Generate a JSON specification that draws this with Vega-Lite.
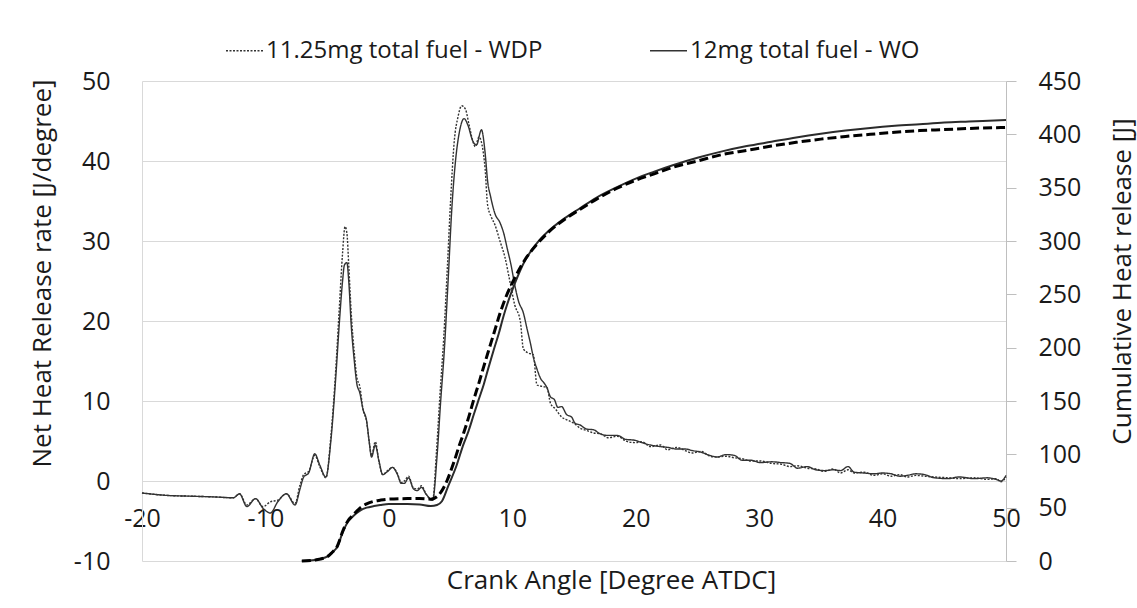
{
  "$schema": "https://vega.github.io/schema/vega-lite/v6.json",
  "autosize": {"type": "none"},
  "width": 864,
  "height": 480,
  "padding": {"left": 142, "top": 81, "right": 131, "bottom": 47},
  "background": "white",
  "config": {
    "font": "Open Sans",
    "view": {"stroke": null},
    "axis": {"labelFont": "Open Sans", "titleFont": "Open Sans", "labelColor": "#1a1a1a", "titleColor": "#1a1a1a", "titleFontWeight": "normal"}
  },
  "datasets": {
    "hrr": [
      {"ca": -20, "s": "12mg total fuel - WO", "v": -1.5},
      {"ca": -18, "s": "12mg total fuel - WO", "v": -1.8},
      {"ca": -16, "s": "12mg total fuel - WO", "v": -1.9},
      {"ca": -14, "s": "12mg total fuel - WO", "v": -2.0},
      {"ca": -12.6, "s": "12mg total fuel - WO", "v": -2.1},
      {"ca": -12.1, "s": "12mg total fuel - WO", "v": -1.6},
      {"ca": -11.5, "s": "12mg total fuel - WO", "v": -3.2},
      {"ca": -10.8, "s": "12mg total fuel - WO", "v": -2.2},
      {"ca": -10.2, "s": "12mg total fuel - WO", "v": -3.4},
      {"ca": -9.6, "s": "12mg total fuel - WO", "v": -4.0},
      {"ca": -9.0, "s": "12mg total fuel - WO", "v": -2.6},
      {"ca": -8.3, "s": "12mg total fuel - WO", "v": -1.6},
      {"ca": -7.6, "s": "12mg total fuel - WO", "v": -3.0},
      {"ca": -7.2, "s": "12mg total fuel - WO", "v": -1.0},
      {"ca": -6.9, "s": "12mg total fuel - WO", "v": 0.5},
      {"ca": -6.5, "s": "12mg total fuel - WO", "v": 1.0},
      {"ca": -6.0, "s": "12mg total fuel - WO", "v": 3.4},
      {"ca": -5.6, "s": "12mg total fuel - WO", "v": 2.0},
      {"ca": -5.1, "s": "12mg total fuel - WO", "v": 0.5},
      {"ca": -4.7, "s": "12mg total fuel - WO", "v": 5.0},
      {"ca": -4.3, "s": "12mg total fuel - WO", "v": 13.0},
      {"ca": -4.0, "s": "12mg total fuel - WO", "v": 20.0},
      {"ca": -3.75, "s": "12mg total fuel - WO", "v": 25.0},
      {"ca": -3.6, "s": "12mg total fuel - WO", "v": 27.0},
      {"ca": -3.4, "s": "12mg total fuel - WO", "v": 27.3},
      {"ca": -3.25, "s": "12mg total fuel - WO", "v": 25.0},
      {"ca": -3.05, "s": "12mg total fuel - WO", "v": 19.5},
      {"ca": -2.8, "s": "12mg total fuel - WO", "v": 15.0},
      {"ca": -2.6, "s": "12mg total fuel - WO", "v": 12.2},
      {"ca": -2.35, "s": "12mg total fuel - WO", "v": 11.0},
      {"ca": -2.1, "s": "12mg total fuel - WO", "v": 9.0},
      {"ca": -1.8, "s": "12mg total fuel - WO", "v": 7.5},
      {"ca": -1.6, "s": "12mg total fuel - WO", "v": 5.0},
      {"ca": -1.4, "s": "12mg total fuel - WO", "v": 3.0},
      {"ca": -1.1, "s": "12mg total fuel - WO", "v": 4.5},
      {"ca": -0.8, "s": "12mg total fuel - WO", "v": 2.5},
      {"ca": -0.5, "s": "12mg total fuel - WO", "v": 0.8},
      {"ca": -0.1, "s": "12mg total fuel - WO", "v": 1.2},
      {"ca": 0.3, "s": "12mg total fuel - WO", "v": 1.7},
      {"ca": 0.7, "s": "12mg total fuel - WO", "v": 0.8},
      {"ca": 1.0, "s": "12mg total fuel - WO", "v": -0.3},
      {"ca": 1.25, "s": "12mg total fuel - WO", "v": -0.3},
      {"ca": 1.6, "s": "12mg total fuel - WO", "v": 0.4},
      {"ca": 2.0, "s": "12mg total fuel - WO", "v": -1.0},
      {"ca": 2.3, "s": "12mg total fuel - WO", "v": -1.2},
      {"ca": 2.65, "s": "12mg total fuel - WO", "v": -0.8},
      {"ca": 3.0, "s": "12mg total fuel - WO", "v": -1.6},
      {"ca": 3.55, "s": "12mg total fuel - WO", "v": -2.4},
      {"ca": 3.9, "s": "12mg total fuel - WO", "v": 3.0},
      {"ca": 4.2, "s": "12mg total fuel - WO", "v": 10.0},
      {"ca": 4.5, "s": "12mg total fuel - WO", "v": 16.5},
      {"ca": 4.8, "s": "12mg total fuel - WO", "v": 25.0},
      {"ca": 5.1, "s": "12mg total fuel - WO", "v": 34.0},
      {"ca": 5.4, "s": "12mg total fuel - WO", "v": 40.0},
      {"ca": 5.7, "s": "12mg total fuel - WO", "v": 43.5},
      {"ca": 6.1, "s": "12mg total fuel - WO", "v": 45.3},
      {"ca": 6.4, "s": "12mg total fuel - WO", "v": 44.5},
      {"ca": 6.8, "s": "12mg total fuel - WO", "v": 42.5},
      {"ca": 7.1, "s": "12mg total fuel - WO", "v": 42.0},
      {"ca": 7.5, "s": "12mg total fuel - WO", "v": 43.9},
      {"ca": 7.8, "s": "12mg total fuel - WO", "v": 41.0},
      {"ca": 8.0, "s": "12mg total fuel - WO", "v": 37.5},
      {"ca": 8.25, "s": "12mg total fuel - WO", "v": 35.5},
      {"ca": 8.6, "s": "12mg total fuel - WO", "v": 33.4},
      {"ca": 9.0, "s": "12mg total fuel - WO", "v": 32.3},
      {"ca": 9.3, "s": "12mg total fuel - WO", "v": 31.0},
      {"ca": 9.6, "s": "12mg total fuel - WO", "v": 29.0},
      {"ca": 9.9, "s": "12mg total fuel - WO", "v": 27.0},
      {"ca": 10.2, "s": "12mg total fuel - WO", "v": 24.5},
      {"ca": 10.5, "s": "12mg total fuel - WO", "v": 22.5},
      {"ca": 10.9, "s": "12mg total fuel - WO", "v": 21.0},
      {"ca": 11.2, "s": "12mg total fuel - WO", "v": 19.0},
      {"ca": 11.5, "s": "12mg total fuel - WO", "v": 17.0},
      {"ca": 11.7, "s": "12mg total fuel - WO", "v": 15.5},
      {"ca": 12.0, "s": "12mg total fuel - WO", "v": 14.0},
      {"ca": 12.3, "s": "12mg total fuel - WO", "v": 12.8},
      {"ca": 12.6, "s": "12mg total fuel - WO", "v": 12.2},
      {"ca": 12.8, "s": "12mg total fuel - WO", "v": 11.7},
      {"ca": 13.1, "s": "12mg total fuel - WO", "v": 10.5},
      {"ca": 13.4, "s": "12mg total fuel - WO", "v": 10.2},
      {"ca": 13.7, "s": "12mg total fuel - WO", "v": 9.2},
      {"ca": 14.0, "s": "12mg total fuel - WO", "v": 9.3},
      {"ca": 14.4, "s": "12mg total fuel - WO", "v": 8.3},
      {"ca": 14.8, "s": "12mg total fuel - WO", "v": 8.0},
      {"ca": 15.1, "s": "12mg total fuel - WO", "v": 7.2},
      {"ca": 15.5, "s": "12mg total fuel - WO", "v": 7.0},
      {"ca": 16.0, "s": "12mg total fuel - WO", "v": 6.5},
      {"ca": 16.6, "s": "12mg total fuel - WO", "v": 6.4},
      {"ca": 17.0, "s": "12mg total fuel - WO", "v": 6.0},
      {"ca": 17.7, "s": "12mg total fuel - WO", "v": 5.7},
      {"ca": 18.5, "s": "12mg total fuel - WO", "v": 5.7},
      {"ca": 19.2, "s": "12mg total fuel - WO", "v": 5.2},
      {"ca": 19.9, "s": "12mg total fuel - WO", "v": 5.1},
      {"ca": 20.5, "s": "12mg total fuel - WO", "v": 4.8},
      {"ca": 21.2, "s": "12mg total fuel - WO", "v": 4.5},
      {"ca": 22.0, "s": "12mg total fuel - WO", "v": 4.3},
      {"ca": 22.6, "s": "12mg total fuel - WO", "v": 4.2},
      {"ca": 23.3, "s": "12mg total fuel - WO", "v": 4.0},
      {"ca": 24.0, "s": "12mg total fuel - WO", "v": 4.0},
      {"ca": 24.6, "s": "12mg total fuel - WO", "v": 3.8},
      {"ca": 25.3, "s": "12mg total fuel - WO", "v": 3.6},
      {"ca": 26.0, "s": "12mg total fuel - WO", "v": 3.2},
      {"ca": 26.6, "s": "12mg total fuel - WO", "v": 3.0},
      {"ca": 27.3, "s": "12mg total fuel - WO", "v": 3.3},
      {"ca": 28.0, "s": "12mg total fuel - WO", "v": 3.2},
      {"ca": 28.6, "s": "12mg total fuel - WO", "v": 2.6},
      {"ca": 29.3, "s": "12mg total fuel - WO", "v": 2.6},
      {"ca": 30.1, "s": "12mg total fuel - WO", "v": 2.3},
      {"ca": 31.0, "s": "12mg total fuel - WO", "v": 2.4},
      {"ca": 31.8, "s": "12mg total fuel - WO", "v": 2.3},
      {"ca": 32.5, "s": "12mg total fuel - WO", "v": 2.2},
      {"ca": 33.1, "s": "12mg total fuel - WO", "v": 1.6},
      {"ca": 33.9, "s": "12mg total fuel - WO", "v": 1.8},
      {"ca": 34.6, "s": "12mg total fuel - WO", "v": 1.4},
      {"ca": 35.3, "s": "12mg total fuel - WO", "v": 1.3},
      {"ca": 36.0, "s": "12mg total fuel - WO", "v": 1.4},
      {"ca": 36.6, "s": "12mg total fuel - WO", "v": 1.3},
      {"ca": 37.2, "s": "12mg total fuel - WO", "v": 1.8},
      {"ca": 37.7, "s": "12mg total fuel - WO", "v": 1.1},
      {"ca": 38.5, "s": "12mg total fuel - WO", "v": 1.0},
      {"ca": 39.3, "s": "12mg total fuel - WO", "v": 0.9},
      {"ca": 40.0, "s": "12mg total fuel - WO", "v": 1.0},
      {"ca": 40.7, "s": "12mg total fuel - WO", "v": 0.9},
      {"ca": 41.4, "s": "12mg total fuel - WO", "v": 0.6},
      {"ca": 42.0, "s": "12mg total fuel - WO", "v": 0.7},
      {"ca": 42.7, "s": "12mg total fuel - WO", "v": 0.9},
      {"ca": 43.4, "s": "12mg total fuel - WO", "v": 0.8},
      {"ca": 44.2, "s": "12mg total fuel - WO", "v": 0.4},
      {"ca": 45.3, "s": "12mg total fuel - WO", "v": 0.3},
      {"ca": 46.2, "s": "12mg total fuel - WO", "v": 0.5},
      {"ca": 47.4, "s": "12mg total fuel - WO", "v": 0.3},
      {"ca": 48.5, "s": "12mg total fuel - WO", "v": 0.4},
      {"ca": 49.2, "s": "12mg total fuel - WO", "v": 0.2},
      {"ca": 49.6, "s": "12mg total fuel - WO", "v": 0.0},
      {"ca": 50.0, "s": "12mg total fuel - WO", "v": 0.7},
      {"ca": -20, "s": "11.25mg total fuel - WDP", "v": -1.5},
      {"ca": -18, "s": "11.25mg total fuel - WDP", "v": -1.8},
      {"ca": -16, "s": "11.25mg total fuel - WDP", "v": -1.9},
      {"ca": -14, "s": "11.25mg total fuel - WDP", "v": -2.0},
      {"ca": -12.6, "s": "11.25mg total fuel - WDP", "v": -2.1},
      {"ca": -12.1, "s": "11.25mg total fuel - WDP", "v": -1.6},
      {"ca": -11.5, "s": "11.25mg total fuel - WDP", "v": -3.0},
      {"ca": -10.8, "s": "11.25mg total fuel - WDP", "v": -2.2},
      {"ca": -10.2, "s": "11.25mg total fuel - WDP", "v": -3.2},
      {"ca": -9.6, "s": "11.25mg total fuel - WDP", "v": -2.6},
      {"ca": -9.0, "s": "11.25mg total fuel - WDP", "v": -2.4},
      {"ca": -8.3, "s": "11.25mg total fuel - WDP", "v": -1.6},
      {"ca": -7.6, "s": "11.25mg total fuel - WDP", "v": -2.8},
      {"ca": -7.2, "s": "11.25mg total fuel - WDP", "v": -0.5},
      {"ca": -6.9, "s": "11.25mg total fuel - WDP", "v": 0.8},
      {"ca": -6.5, "s": "11.25mg total fuel - WDP", "v": 1.2},
      {"ca": -6.0, "s": "11.25mg total fuel - WDP", "v": 3.2},
      {"ca": -5.6, "s": "11.25mg total fuel - WDP", "v": 1.8},
      {"ca": -5.1, "s": "11.25mg total fuel - WDP", "v": 0.4},
      {"ca": -4.7, "s": "11.25mg total fuel - WDP", "v": 5.5},
      {"ca": -4.3, "s": "11.25mg total fuel - WDP", "v": 14.0},
      {"ca": -4.0, "s": "11.25mg total fuel - WDP", "v": 22.0},
      {"ca": -3.75, "s": "11.25mg total fuel - WDP", "v": 28.5},
      {"ca": -3.55, "s": "11.25mg total fuel - WDP", "v": 31.8},
      {"ca": -3.4, "s": "11.25mg total fuel - WDP", "v": 31.0},
      {"ca": -3.25, "s": "11.25mg total fuel - WDP", "v": 27.0},
      {"ca": -3.05, "s": "11.25mg total fuel - WDP", "v": 21.0},
      {"ca": -2.8, "s": "11.25mg total fuel - WDP", "v": 16.0},
      {"ca": -2.6, "s": "11.25mg total fuel - WDP", "v": 13.0},
      {"ca": -2.35, "s": "11.25mg total fuel - WDP", "v": 11.8},
      {"ca": -2.1, "s": "11.25mg total fuel - WDP", "v": 9.0},
      {"ca": -1.8, "s": "11.25mg total fuel - WDP", "v": 7.4},
      {"ca": -1.6, "s": "11.25mg total fuel - WDP", "v": 5.0},
      {"ca": -1.4, "s": "11.25mg total fuel - WDP", "v": 3.2},
      {"ca": -1.1, "s": "11.25mg total fuel - WDP", "v": 4.9},
      {"ca": -0.8, "s": "11.25mg total fuel - WDP", "v": 2.4},
      {"ca": -0.5, "s": "11.25mg total fuel - WDP", "v": 0.8},
      {"ca": -0.1, "s": "11.25mg total fuel - WDP", "v": 1.3},
      {"ca": 0.3, "s": "11.25mg total fuel - WDP", "v": 1.7},
      {"ca": 0.7, "s": "11.25mg total fuel - WDP", "v": 0.9},
      {"ca": 1.0, "s": "11.25mg total fuel - WDP", "v": -0.2},
      {"ca": 1.25, "s": "11.25mg total fuel - WDP", "v": 0.0},
      {"ca": 1.6, "s": "11.25mg total fuel - WDP", "v": 0.6},
      {"ca": 2.0, "s": "11.25mg total fuel - WDP", "v": -0.9},
      {"ca": 2.3, "s": "11.25mg total fuel - WDP", "v": -1.0},
      {"ca": 2.65, "s": "11.25mg total fuel - WDP", "v": -0.6},
      {"ca": 3.0, "s": "11.25mg total fuel - WDP", "v": -1.6},
      {"ca": 3.55, "s": "11.25mg total fuel - WDP", "v": -2.4},
      {"ca": 3.85, "s": "11.25mg total fuel - WDP", "v": 3.5},
      {"ca": 4.15, "s": "11.25mg total fuel - WDP", "v": 11.0},
      {"ca": 4.45, "s": "11.25mg total fuel - WDP", "v": 18.0},
      {"ca": 4.75, "s": "11.25mg total fuel - WDP", "v": 27.0},
      {"ca": 5.0, "s": "11.25mg total fuel - WDP", "v": 35.0},
      {"ca": 5.3, "s": "11.25mg total fuel - WDP", "v": 42.5},
      {"ca": 5.6, "s": "11.25mg total fuel - WDP", "v": 45.5},
      {"ca": 5.9, "s": "11.25mg total fuel - WDP", "v": 46.9},
      {"ca": 6.2, "s": "11.25mg total fuel - WDP", "v": 46.5},
      {"ca": 6.5, "s": "11.25mg total fuel - WDP", "v": 44.5},
      {"ca": 6.8, "s": "11.25mg total fuel - WDP", "v": 42.5},
      {"ca": 7.0, "s": "11.25mg total fuel - WDP", "v": 41.8},
      {"ca": 7.3, "s": "11.25mg total fuel - WDP", "v": 43.0},
      {"ca": 7.55, "s": "11.25mg total fuel - WDP", "v": 42.0},
      {"ca": 7.8, "s": "11.25mg total fuel - WDP", "v": 39.0},
      {"ca": 8.0, "s": "11.25mg total fuel - WDP", "v": 34.5},
      {"ca": 8.3, "s": "11.25mg total fuel - WDP", "v": 33.0},
      {"ca": 8.6, "s": "11.25mg total fuel - WDP", "v": 32.0},
      {"ca": 9.0, "s": "11.25mg total fuel - WDP", "v": 30.0},
      {"ca": 9.4, "s": "11.25mg total fuel - WDP", "v": 28.0},
      {"ca": 9.8, "s": "11.25mg total fuel - WDP", "v": 25.0},
      {"ca": 10.2, "s": "11.25mg total fuel - WDP", "v": 22.0},
      {"ca": 10.65, "s": "11.25mg total fuel - WDP", "v": 20.0},
      {"ca": 10.9, "s": "11.25mg total fuel - WDP", "v": 16.5},
      {"ca": 11.3, "s": "11.25mg total fuel - WDP", "v": 16.0},
      {"ca": 11.7, "s": "11.25mg total fuel - WDP", "v": 15.8},
      {"ca": 12.0, "s": "11.25mg total fuel - WDP", "v": 12.0},
      {"ca": 12.5, "s": "11.25mg total fuel - WDP", "v": 11.8},
      {"ca": 12.8, "s": "11.25mg total fuel - WDP", "v": 11.7},
      {"ca": 13.1, "s": "11.25mg total fuel - WDP", "v": 9.7},
      {"ca": 13.5, "s": "11.25mg total fuel - WDP", "v": 9.0},
      {"ca": 14.0, "s": "11.25mg total fuel - WDP", "v": 8.0},
      {"ca": 14.5, "s": "11.25mg total fuel - WDP", "v": 7.6},
      {"ca": 15.0, "s": "11.25mg total fuel - WDP", "v": 7.2},
      {"ca": 15.5, "s": "11.25mg total fuel - WDP", "v": 6.6},
      {"ca": 16.05, "s": "11.25mg total fuel - WDP", "v": 6.3},
      {"ca": 16.6, "s": "11.25mg total fuel - WDP", "v": 6.0},
      {"ca": 17.15, "s": "11.25mg total fuel - WDP", "v": 5.9},
      {"ca": 17.8, "s": "11.25mg total fuel - WDP", "v": 5.4},
      {"ca": 18.5, "s": "11.25mg total fuel - WDP", "v": 5.6},
      {"ca": 19.2, "s": "11.25mg total fuel - WDP", "v": 5.0},
      {"ca": 19.9, "s": "11.25mg total fuel - WDP", "v": 4.8},
      {"ca": 20.5, "s": "11.25mg total fuel - WDP", "v": 4.9},
      {"ca": 21.2, "s": "11.25mg total fuel - WDP", "v": 4.3},
      {"ca": 22.0, "s": "11.25mg total fuel - WDP", "v": 4.5},
      {"ca": 22.6, "s": "11.25mg total fuel - WDP", "v": 3.9},
      {"ca": 23.3, "s": "11.25mg total fuel - WDP", "v": 4.2},
      {"ca": 24.0, "s": "11.25mg total fuel - WDP", "v": 3.8},
      {"ca": 24.6, "s": "11.25mg total fuel - WDP", "v": 3.5},
      {"ca": 25.3, "s": "11.25mg total fuel - WDP", "v": 3.7},
      {"ca": 26.0, "s": "11.25mg total fuel - WDP", "v": 3.1},
      {"ca": 26.6, "s": "11.25mg total fuel - WDP", "v": 3.0},
      {"ca": 27.3, "s": "11.25mg total fuel - WDP", "v": 3.1},
      {"ca": 28.0, "s": "11.25mg total fuel - WDP", "v": 2.9},
      {"ca": 28.6, "s": "11.25mg total fuel - WDP", "v": 2.8},
      {"ca": 29.3, "s": "11.25mg total fuel - WDP", "v": 2.5},
      {"ca": 30.1, "s": "11.25mg total fuel - WDP", "v": 2.5},
      {"ca": 31.0, "s": "11.25mg total fuel - WDP", "v": 2.2},
      {"ca": 31.8, "s": "11.25mg total fuel - WDP", "v": 2.1},
      {"ca": 32.5, "s": "11.25mg total fuel - WDP", "v": 1.8},
      {"ca": 33.1, "s": "11.25mg total fuel - WDP", "v": 1.9},
      {"ca": 33.9, "s": "11.25mg total fuel - WDP", "v": 1.6},
      {"ca": 34.6, "s": "11.25mg total fuel - WDP", "v": 1.5},
      {"ca": 35.3, "s": "11.25mg total fuel - WDP", "v": 1.2},
      {"ca": 36.0, "s": "11.25mg total fuel - WDP", "v": 1.5},
      {"ca": 36.6, "s": "11.25mg total fuel - WDP", "v": 1.0},
      {"ca": 37.2, "s": "11.25mg total fuel - WDP", "v": 1.4},
      {"ca": 37.7, "s": "11.25mg total fuel - WDP", "v": 1.0},
      {"ca": 38.5, "s": "11.25mg total fuel - WDP", "v": 1.1},
      {"ca": 39.3, "s": "11.25mg total fuel - WDP", "v": 0.7},
      {"ca": 40.0, "s": "11.25mg total fuel - WDP", "v": 0.9},
      {"ca": 40.7, "s": "11.25mg total fuel - WDP", "v": 0.6},
      {"ca": 41.4, "s": "11.25mg total fuel - WDP", "v": 0.8},
      {"ca": 42.0, "s": "11.25mg total fuel - WDP", "v": 0.5},
      {"ca": 42.7, "s": "11.25mg total fuel - WDP", "v": 0.7},
      {"ca": 43.4, "s": "11.25mg total fuel - WDP", "v": 0.6},
      {"ca": 44.2, "s": "11.25mg total fuel - WDP", "v": 0.5},
      {"ca": 45.3, "s": "11.25mg total fuel - WDP", "v": 0.4},
      {"ca": 46.2, "s": "11.25mg total fuel - WDP", "v": 0.3},
      {"ca": 47.4, "s": "11.25mg total fuel - WDP", "v": 0.4},
      {"ca": 48.5, "s": "11.25mg total fuel - WDP", "v": 0.2},
      {"ca": 49.2, "s": "11.25mg total fuel - WDP", "v": 0.3},
      {"ca": 49.6, "s": "11.25mg total fuel - WDP", "v": -0.1},
      {"ca": 50.0, "s": "11.25mg total fuel - WDP", "v": 0.5}
    ],
    "cum_wdp": [
      {"ca": -7.05, "q": 0}, {"ca": -6.0, "q": 1}, {"ca": -5.0, "q": 4}, {"ca": -4.6, "q": 8},
      {"ca": -4.2, "q": 13.4}, {"ca": -3.7, "q": 29}, {"ca": -3.3, "q": 38}, {"ca": -2.9, "q": 43},
      {"ca": -2.3, "q": 50}, {"ca": -1.8, "q": 53.5}, {"ca": -1.2, "q": 56}, {"ca": -0.7, "q": 57},
      {"ca": 0.0, "q": 58}, {"ca": 1.5, "q": 58.5}, {"ca": 2.5, "q": 58.5}, {"ca": 3.4, "q": 58},
      {"ca": 3.9, "q": 60.3}, {"ca": 4.3, "q": 66}, {"ca": 4.7, "q": 75}, {"ca": 5.25, "q": 92},
      {"ca": 5.7, "q": 108}, {"ca": 6.06, "q": 120}, {"ca": 6.5, "q": 136}, {"ca": 6.87, "q": 151},
      {"ca": 7.3, "q": 167}, {"ca": 7.68, "q": 182}, {"ca": 8.1, "q": 198}, {"ca": 8.5, "q": 213},
      {"ca": 9.0, "q": 232}, {"ca": 9.5, "q": 248}, {"ca": 10.1, "q": 263}, {"ca": 11.0, "q": 282},
      {"ca": 12.0, "q": 297}, {"ca": 13.0, "q": 309}, {"ca": 14.2, "q": 320}, {"ca": 15.4, "q": 329},
      {"ca": 16.8, "q": 339}, {"ca": 18.4, "q": 349}, {"ca": 20.0, "q": 357}, {"ca": 21.5, "q": 363},
      {"ca": 23.0, "q": 369}, {"ca": 25.0, "q": 375}, {"ca": 27.0, "q": 381}, {"ca": 29.0, "q": 385},
      {"ca": 31.0, "q": 389}, {"ca": 33.0, "q": 392.5}, {"ca": 35.0, "q": 395.5}, {"ca": 37.0, "q": 398},
      {"ca": 39.0, "q": 400}, {"ca": 41.0, "q": 402}, {"ca": 43.0, "q": 403.5}, {"ca": 45.0, "q": 404.5},
      {"ca": 47.0, "q": 405.5}, {"ca": 50.0, "q": 406.5}
    ],
    "cum_wo": [
      {"ca": -7.05, "q": 0}, {"ca": -6.0, "q": 1}, {"ca": -5.0, "q": 4}, {"ca": -4.6, "q": 8},
      {"ca": -4.2, "q": 13}, {"ca": -3.7, "q": 28}, {"ca": -3.3, "q": 37}, {"ca": -2.9, "q": 42},
      {"ca": -2.3, "q": 47.5}, {"ca": -1.8, "q": 50}, {"ca": -1.2, "q": 51.5}, {"ca": -0.7, "q": 52.5},
      {"ca": 0.0, "q": 53.5}, {"ca": 1.5, "q": 53.5}, {"ca": 2.5, "q": 53}, {"ca": 3.4, "q": 51.5},
      {"ca": 3.9, "q": 52.5}, {"ca": 4.3, "q": 56}, {"ca": 4.8, "q": 70}, {"ca": 5.5, "q": 90},
      {"ca": 6.0, "q": 108}, {"ca": 6.46, "q": 122}, {"ca": 6.9, "q": 138}, {"ca": 7.27, "q": 151},
      {"ca": 7.7, "q": 166}, {"ca": 8.09, "q": 182}, {"ca": 8.5, "q": 198}, {"ca": 8.9, "q": 213},
      {"ca": 9.3, "q": 230}, {"ca": 9.57, "q": 240}, {"ca": 10.2, "q": 260}, {"ca": 11.0, "q": 281},
      {"ca": 12.0, "q": 298}, {"ca": 13.0, "q": 310}, {"ca": 14.2, "q": 321}, {"ca": 15.4, "q": 330},
      {"ca": 16.8, "q": 340.5}, {"ca": 18.4, "q": 350}, {"ca": 20.0, "q": 358.5}, {"ca": 21.5, "q": 365},
      {"ca": 23.0, "q": 371}, {"ca": 25.0, "q": 378}, {"ca": 27.0, "q": 384}, {"ca": 29.0, "q": 389},
      {"ca": 31.0, "q": 393}, {"ca": 33.0, "q": 397}, {"ca": 35.0, "q": 400.5}, {"ca": 37.0, "q": 403.5},
      {"ca": 39.0, "q": 406}, {"ca": 41.0, "q": 408}, {"ca": 43.0, "q": 409.5}, {"ca": 45.0, "q": 411},
      {"ca": 47.0, "q": 412}, {"ca": 50.0, "q": 413.5}
    ]
  },
  "layer": [
    {
      "data": {"name": "hrr"},
      "mark": {"type": "line", "interpolate": "monotone", "strokeWidth": 1.4, "color": "#333333"},
      "encoding": {
        "x": {
          "field": "ca", "type": "quantitative",
          "scale": {"domain": [-20, 50], "nice": false, "zero": false},
          "axis": {
            "values": [-20, -10, 0, 10, 20, 30, 40, 50],
            "labelExpr": "replace(datum.label, '\u2212', '-')",
            "offset": -81, "grid": false, "domain": false, "ticks": false, "tickSize": 0,
            "labelPadding": 26, "labelFontSize": 25, "labelFlush": false, "labelOverlap": false,
            "title": "Crank Angle [Degree ATDC]", "titleFontSize": 26,
            "titleX": 469, "titleY": 100, "titleBaseline": "middle", "titleAnchor": null
          }
        },
        "y": {
          "field": "v", "type": "quantitative",
          "scale": {"domain": [-10, 50], "nice": false, "zero": false},
          "axis": {
            "values": [-10, 0, 10, 20, 30, 40, 50],
            "labelExpr": "replace(datum.label, '\u2212', '-')",
            "grid": true, "gridColor": "#d9d9d9", "gridWidth": 1.2,
            "domain": true, "domainColor": "#d9d9d9", "ticks": false, "tickSize": 0,
            "labelPadding": 32, "labelFontSize": 25,
            "title": "Net Heat Release rate [J/degree]", "titleFontSize": 26,
            "titleX": -100, "titleY": 192, "titleAngle": -90, "titleAlign": "center", "titleBaseline": "middle"
          }
        },
        "strokeDash": {
          "field": "s", "type": "nominal",
          "scale": {"domain": ["11.25mg total fuel - WDP", "12mg total fuel - WO"], "range": [[2, 1.5], [1, 0]]},
          "legend": {
            "orient": "none", "legendX": 83, "legendY": -50, "direction": "horizontal",
            "title": null, "symbolType": "stroke", "symbolSize": 1369, "symbolStrokeWidth": 1.4,
            "symbolStrokeColor": "#333333", "labelFontSize": 24, "labelFont": "Open Sans",
            "labelColor": "#1a1a1a", "labelOffset": 2, "columnPadding": 104, "labelLimit": 400
          }
        }
      }
    },
    {
      "layer": [
        {
          "data": {"name": "cum_wo"},
          "mark": {"type": "line", "interpolate": "monotone", "strokeWidth": 2, "color": "#2b2b2b"},
          "encoding": {
            "x": {"field": "ca", "type": "quantitative"},
            "y": {
              "field": "q", "type": "quantitative",
              "scale": {"domain": [0, 450], "nice": false},
              "axis": {
                "orient": "right", "values": [0, 50, 100, 150, 200, 250, 300, 350, 400, 450],
                "grid": false, "domain": true, "domainColor": "#bfbfbf", "ticks": true, "tickColor": "#bfbfbf",
                "tickSize": 10, "labelPadding": 22, "labelFontSize": 25,
                "title": "Cumulative Heat release [J]", "titleFontSize": 26,
                "titleX": 116, "titleY": 200, "titleAngle": -90, "titleAlign": "center", "titleBaseline": "middle"
              }
            }
          }
        },
        {
          "data": {"name": "cum_wdp"},
          "mark": {"type": "line", "interpolate": "monotone", "strokeWidth": 3, "strokeDash": [9, 4], "color": "#000000"},
          "encoding": {
            "x": {"field": "ca", "type": "quantitative"},
            "y": {"field": "q", "type": "quantitative"}
          }
        }
      ]
    }
  ],
  "resolve": {"scale": {"y": "independent"}}
}
